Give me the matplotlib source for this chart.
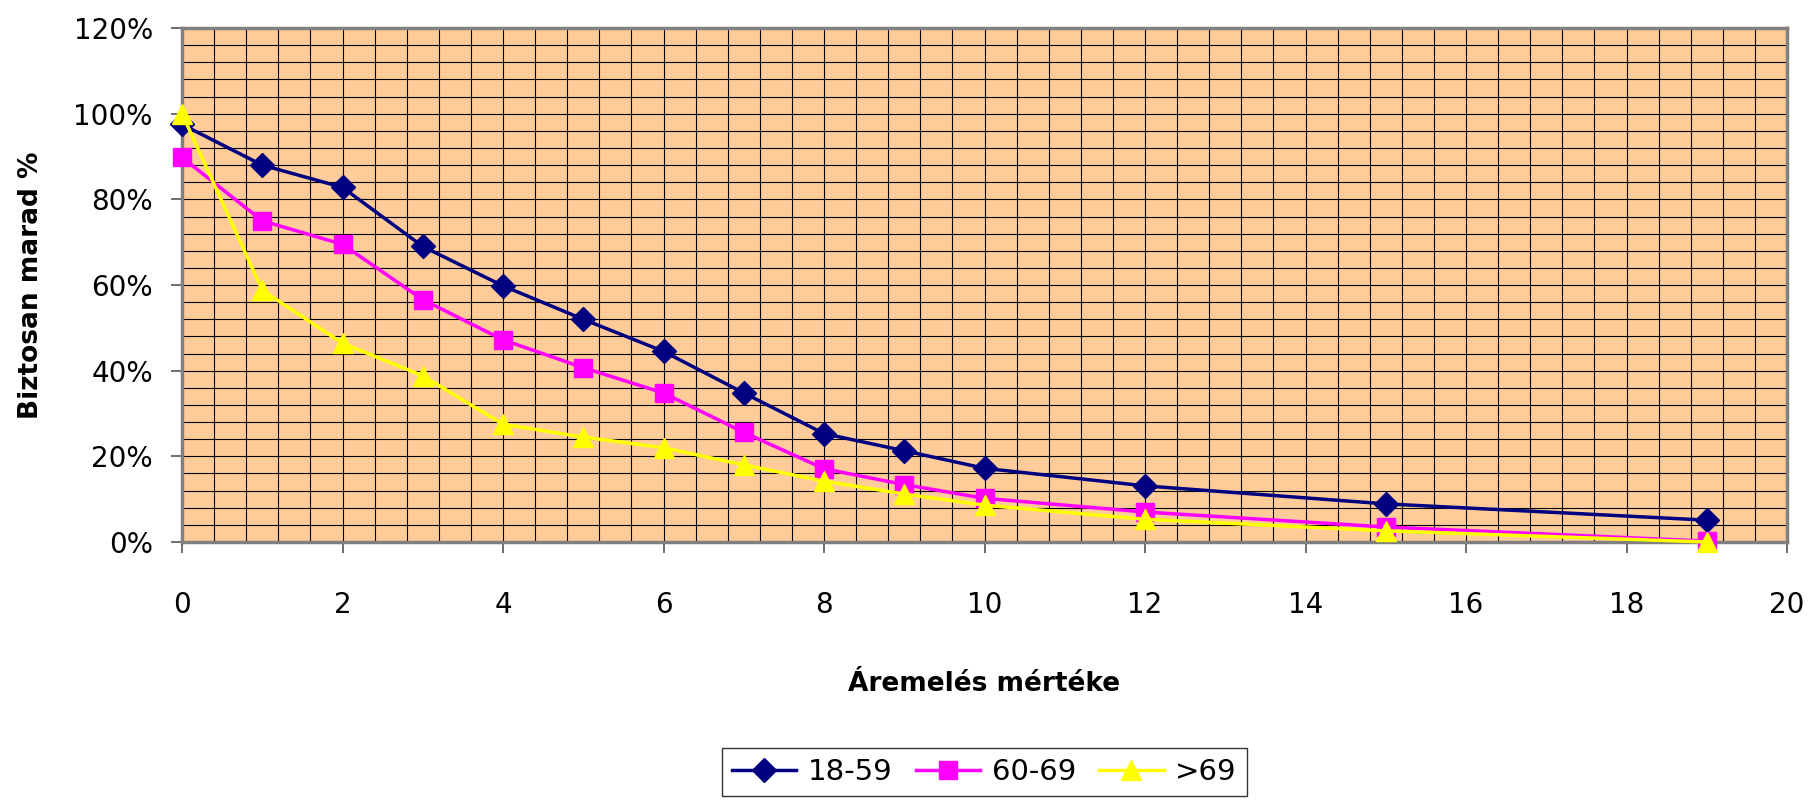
import matplotlib.pyplot as plt
from matplotlib.ticker import MultipleLocator, PercentFormatter

# price increase steps and share that surely stays (%)
aremeles = [0, 1, 2, 3, 4, 5, 6, 7, 8, 9, 10, 12, 15, 19]
kor_18_59 = [97.5, 88, 82.8, 69, 59.8, 52, 44.5, 34.8, 25.3, 21.3, 17.2, 13.1, 8.9, 5.1]
kor_60_69 = [89.8, 75, 69.5, 56.6, 47.2, 40.7, 34.8, 25.6, 17.1, 13.4, 10.2, 7, 3.5, 0.2]
kor_69_felett = [100, 58.8, 46.4, 38.8, 27.5, 24.5, 22, 18, 14.2, 11.2, 8.6, 5.3, 2.6, 0]
labels = ['18-59', '60-69', '>69']

plt.rcParams['font.family'] = ['DejaVu Sans']

fig = plt.figure(figsize=(18.13, 8.02), dpi=100)
ax = fig.add_axes([0.1004, 0.3242, 0.8853, 0.6408])
ax.set_facecolor('#FFCC99')

ax.plot(aremeles, kor_18_59, color='#000080', lw=2.5, marker='D', ms=12,
        label=labels[0], clip_on=False, zorder=3)
ax.plot(aremeles, kor_60_69, color='#FF00FF', lw=2.5, marker='s', ms=13,
        label=labels[1], clip_on=False, zorder=4)
ax.plot(aremeles, kor_69_felett, color='#FFFF00', lw=2.5, marker='^', ms=15,
        label=labels[2], clip_on=False, zorder=5)

ax.set_xlim(0, 20)
ax.set_ylim(0, 120)
ax.xaxis.set_major_locator(MultipleLocator(2))
ax.xaxis.set_minor_locator(MultipleLocator(0.4))
ax.yaxis.set_major_locator(MultipleLocator(20))
ax.yaxis.set_minor_locator(MultipleLocator(4))
ax.yaxis.set_major_formatter(PercentFormatter(decimals=0))

ax.grid(which='both', color='black', lw=0.8)
ax.set_axisbelow(True)
for s in ax.spines.values():
    s.set_color('#808080')
    s.set_linewidth(2.5)
    s.set_zorder(2.5)

ax.tick_params(which='major', length=8, width=1.2, color='#555555', labelsize=20)
ax.tick_params(axis='x', which='major', pad=27)
ax.tick_params(axis='y', which='major', pad=13)
ax.tick_params(which='minor', length=0)

ax.set_xlabel('Áremelés mértéke', fontsize=19, fontweight='bold', labelpad=38)
ax.set_ylabel('Biztosan marad %', fontsize=19, fontweight='bold', labelpad=21)

leg = fig.legend(loc='upper center', bbox_to_anchor=(0.543, 0.086), ncol=3,
                 fontsize=21, frameon=True, fancybox=False, edgecolor='black',
                 handlelength=2.2, handletextpad=0.4, columnspacing=0.8, borderpad=0.35)
leg.get_frame().set_linewidth(1.0)

fig.savefig('out.png', dpi=100)
